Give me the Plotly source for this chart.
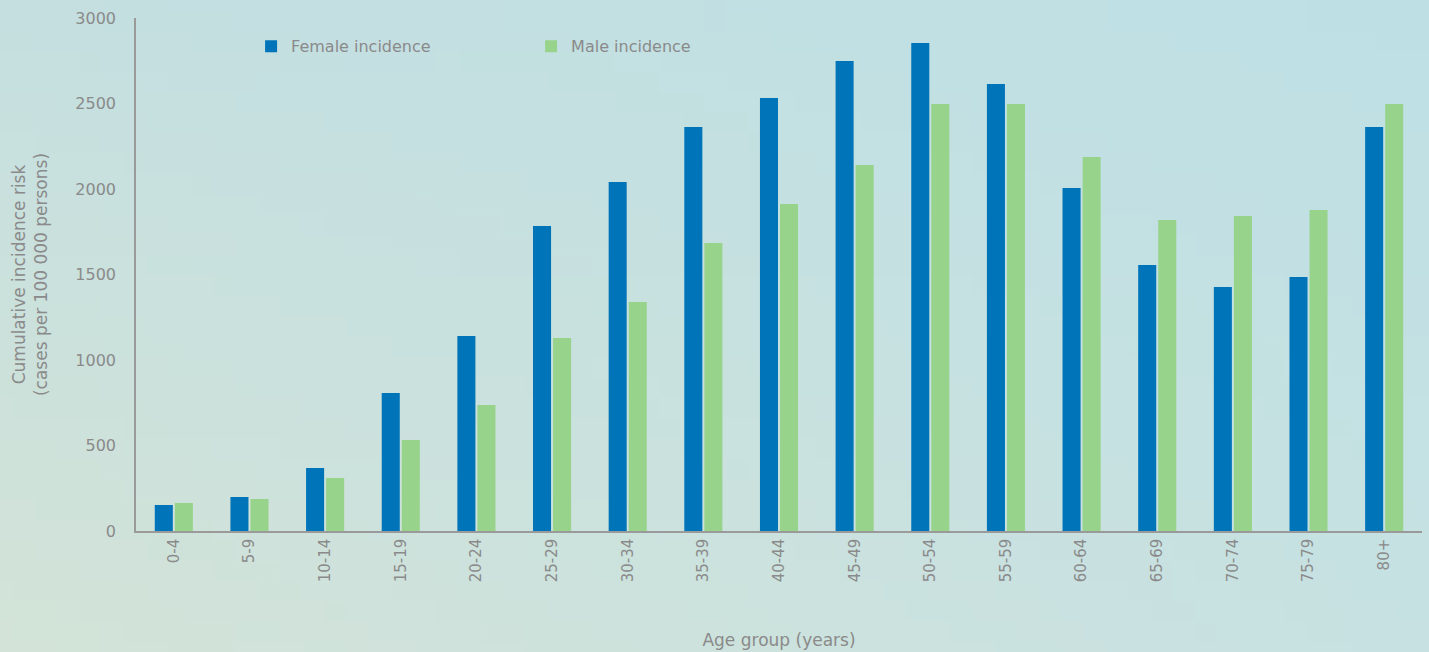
import base64, struct, zlib
import plotly.graph_objects as go

age_groups = ["0-4", "5-9", "10-14", "15-19", "20-24", "25-29", "30-34", "35-39", "40-44",
              "45-49", "50-54", "55-59", "60-64", "65-69", "70-74", "75-79", "80+"]
female_incidence = [152, 199, 368, 807, 1140, 1784, 2041, 2363, 2532, 2749, 2854, 2614,
                    2006, 1556, 1427, 1485, 2363]
male_incidence = [164, 187, 310, 532, 737, 1129, 1339, 1684, 1912, 2140, 2497, 2497,
                  2187, 1819, 1842, 1877, 2497]


def gradient_png(w, h, tl, tr, bl, br):
    rows = b""
    for j in range(h):
        fy = j / (h - 1)
        row = b"\x00"
        for i in range(w):
            fx = i / (w - 1)
            px = []
            for c in range(3):
                top = tl[c] * (1 - fx) + tr[c] * fx
                bot = bl[c] * (1 - fx) + br[c] * fx
                px.append(int(round(top * (1 - fy) + bot * fy)))
            row += bytes(px)
        rows += row

    def chunk(tag, data):
        c = struct.pack(">I", len(data)) + tag + data
        return c + struct.pack(">I", zlib.crc32(tag + data) & 0xffffffff)

    png = b"\x89PNG\r\n\x1a\n"
    png += chunk(b"IHDR", struct.pack(">IIBBBBB", w, h, 8, 2, 0, 0, 0))
    png += chunk(b"IDAT", zlib.compress(rows))
    png += chunk(b"IEND", b"")
    return "data:image/png;base64," + base64.b64encode(png).decode()


bg = gradient_png(64, 32, (197, 223, 224), (190, 224, 229), (211, 227, 216), (199, 225, 226))

font_family = "DejaVu Sans, sans-serif"
text_color = "#8a8a8a"

fig = go.Figure()
fig.add_trace(go.Bar(x=age_groups, y=female_incidence, name="Female incidence",
                     marker=dict(color="#0074b9", line=dict(width=0))))
fig.add_trace(go.Bar(x=age_groups, y=male_incidence, name="Male incidence",
                     marker=dict(color="#98d38b", line=dict(width=0))))

fig.update_layout(
    width=1429, height=652,
    margin=dict(l=136, r=7, t=18, b=121, autoexpand=False),
    paper_bgcolor="rgba(0,0,0,0)",
    plot_bgcolor="rgba(0,0,0,0)",
    barmode="group",
    bargap=0.47,
    bargroupgap=0.1,
    font=dict(family=font_family, color=text_color, size=16),
    images=[dict(source=bg, xref="paper", yref="paper", x=-136 / 1286, y=1 + 18 / 513,
                 sizex=1429 / 1286, sizey=652 / 513, sizing="stretch", layer="below",
                 xanchor="left", yanchor="top")],
    legend=dict(orientation="h", x=0.0895, y=0.978, xanchor="left", yanchor="top",
                entrywidth=235, font=dict(size=16, color=text_color),
                bgcolor="rgba(0,0,0,0)"),
    xaxis=dict(
        automargin=True,
        tickangle=-90, showline=True, linecolor="#9a9a9a", linewidth=1.5,
        ticks="", tickfont=dict(size=15, color=text_color),
        title=dict(text="Age group (years)", font=dict(size=17, color=text_color), standoff=53),
        showgrid=False,
    ),
    yaxis=dict(
        automargin=True,
        range=[0, 3000], dtick=500, showline=True, linecolor="#9a9a9a", linewidth=1.5,
        showgrid=False, zeroline=False, ticks="", ticklabelstandoff=15,
        tickfont=dict(size=16, color=text_color),
        title=dict(text="Cumulative incidence risk<br>(cases per 100 000 persons)",
                   font=dict(size=17, color=text_color), standoff=23),
    ),
)

fig.write_html("out.html", config={"displayModeBar": False},
               post_script="document.body.style.margin='0px';document.body.style.overflow='hidden';")
